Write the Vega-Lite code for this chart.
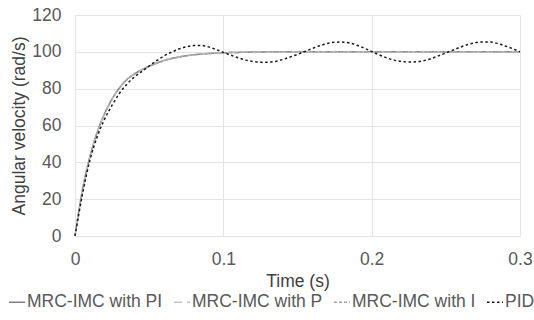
{
  "$schema": "https://vega.github.io/schema/vega-lite/v6.json",
  "width": 445,
  "height": 221,
  "autosize": {"type": "none"},
  "padding": {"left": 75, "top": 15, "right": 14, "bottom": 84},
  "background": "white",
  "config": {
    "view": {"stroke": null},
    "font": "Liberation Sans",
    "axis": {"labelFont": "Liberation Sans", "titleFont": "Liberation Sans", "labelFontSize": 17.5, "titleFontSize": 17.5, "labelColor": "#595959", "titleColor": "#404040", "titleFontWeight": "normal", "gridColor": "#e4e4e4", "gridWidth": 1, "ticks": false},
    "legend": {"labelFont": "Liberation Sans", "labelFontSize": 17.5, "labelColor": "#595959"}
  },
  "data": {
    "values": [
      {"t": 0, "MRC-IMC with PI": 0, "MRC-IMC with P": 0, "MRC-IMC with I": 0, "PID": 0},
      {"t": 0.005, "MRC-IMC with PI": 24.9, "MRC-IMC with P": 24.7, "MRC-IMC with I": 24.5, "PID": 22.5},
      {"t": 0.01, "MRC-IMC with PI": 43.0, "MRC-IMC with P": 42.8, "MRC-IMC with I": 42.6, "PID": 41},
      {"t": 0.015, "MRC-IMC with PI": 56.5, "MRC-IMC with P": 56.3, "MRC-IMC with I": 56.1, "PID": 54},
      {"t": 0.02, "MRC-IMC with PI": 66.5, "MRC-IMC with P": 66.4, "MRC-IMC with I": 66.2, "PID": 63.5},
      {"t": 0.025, "MRC-IMC with PI": 74.5, "MRC-IMC with P": 74.4, "MRC-IMC with I": 74.2, "PID": 71},
      {"t": 0.03, "MRC-IMC with PI": 80.5, "MRC-IMC with P": 80.4, "MRC-IMC with I": 80.3, "PID": 77.5},
      {"t": 0.035, "MRC-IMC with PI": 85.0, "MRC-IMC with P": 85.0, "MRC-IMC with I": 84.8, "PID": 82.5},
      {"t": 0.04, "MRC-IMC with PI": 88.0, "MRC-IMC with P": 88.1, "MRC-IMC with I": 87.8, "PID": 86.3},
      {"t": 0.045, "MRC-IMC with PI": 90.3, "MRC-IMC with P": 90.4, "MRC-IMC with I": 90.1, "PID": 89.3},
      {"t": 0.05, "MRC-IMC with PI": 92.2, "MRC-IMC with P": 92.4, "MRC-IMC with I": 92.0, "PID": 92.3},
      {"t": 0.055, "MRC-IMC with PI": 93.9, "MRC-IMC with P": 94.2, "MRC-IMC with I": 93.7, "PID": 95.2},
      {"t": 0.06, "MRC-IMC with PI": 95.3, "MRC-IMC with P": 95.4, "MRC-IMC with I": 95.1, "PID": 97.8},
      {"t": 0.065, "MRC-IMC with PI": 96.4, "MRC-IMC with P": 96.7, "MRC-IMC with I": 96.3, "PID": 99.8},
      {"t": 0.07, "MRC-IMC with PI": 97.2, "MRC-IMC with P": 97.1, "MRC-IMC with I": 97.1, "PID": 101.5},
      {"t": 0.075, "MRC-IMC with PI": 97.9, "MRC-IMC with P": 98.2, "MRC-IMC with I": 97.8, "PID": 102.7},
      {"t": 0.08, "MRC-IMC with PI": 98.4, "MRC-IMC with P": 98.2, "MRC-IMC with I": 98.3, "PID": 103.4},
      {"t": 0.085, "MRC-IMC with PI": 98.8, "MRC-IMC with P": 99.0, "MRC-IMC with I": 98.7, "PID": 103.5},
      {"t": 0.09, "MRC-IMC with PI": 99.1, "MRC-IMC with P": 98.9, "MRC-IMC with I": 99.0, "PID": 102.7},
      {"t": 0.095, "MRC-IMC with PI": 99.3, "MRC-IMC with P": 99.5, "MRC-IMC with I": 99.3, "PID": 101.3},
      {"t": 0.1, "MRC-IMC with PI": 99.5, "MRC-IMC with P": 99.4, "MRC-IMC with I": 99.5, "PID": 99.7},
      {"t": 0.105, "MRC-IMC with PI": 99.6, "MRC-IMC with P": 99.8, "MRC-IMC with I": 99.6, "PID": 98.2},
      {"t": 0.11, "MRC-IMC with PI": 99.7, "MRC-IMC with P": 99.5, "MRC-IMC with I": 99.7, "PID": 96.8},
      {"t": 0.115, "MRC-IMC with PI": 99.8, "MRC-IMC with P": 100.0, "MRC-IMC with I": 99.8, "PID": 95.5},
      {"t": 0.12, "MRC-IMC with PI": 99.9, "MRC-IMC with P": 99.7, "MRC-IMC with I": 99.9, "PID": 94.8},
      {"t": 0.125, "MRC-IMC with PI": 99.9, "MRC-IMC with P": 100.1, "MRC-IMC with I": 99.9, "PID": 94.4},
      {"t": 0.13, "MRC-IMC with PI": 100, "MRC-IMC with P": 99.8, "MRC-IMC with I": 100, "PID": 94.4},
      {"t": 0.135, "MRC-IMC with PI": 100, "MRC-IMC with P": 100.2, "MRC-IMC with I": 100, "PID": 94.8},
      {"t": 0.14, "MRC-IMC with PI": 100, "MRC-IMC with P": 99.8, "MRC-IMC with I": 100, "PID": 95.8},
      {"t": 0.145, "MRC-IMC with PI": 100, "MRC-IMC with P": 100.2, "MRC-IMC with I": 100, "PID": 97.2},
      {"t": 0.15, "MRC-IMC with PI": 100, "MRC-IMC with P": 99.8, "MRC-IMC with I": 100, "PID": 98.6},
      {"t": 0.155, "MRC-IMC with PI": 100, "MRC-IMC with P": 100.2, "MRC-IMC with I": 100, "PID": 100.2},
      {"t": 0.16, "MRC-IMC with PI": 100, "MRC-IMC with P": 99.8, "MRC-IMC with I": 100, "PID": 101.8},
      {"t": 0.165, "MRC-IMC with PI": 100, "MRC-IMC with P": 100.2, "MRC-IMC with I": 100, "PID": 103.3},
      {"t": 0.17, "MRC-IMC with PI": 100, "MRC-IMC with P": 99.8, "MRC-IMC with I": 100, "PID": 104.5},
      {"t": 0.175, "MRC-IMC with PI": 100, "MRC-IMC with P": 100.2, "MRC-IMC with I": 100, "PID": 105.2},
      {"t": 0.18, "MRC-IMC with PI": 100, "MRC-IMC with P": 99.8, "MRC-IMC with I": 100, "PID": 105.3},
      {"t": 0.185, "MRC-IMC with PI": 100, "MRC-IMC with P": 100.2, "MRC-IMC with I": 100, "PID": 104.8},
      {"t": 0.19, "MRC-IMC with PI": 100, "MRC-IMC with P": 99.8, "MRC-IMC with I": 100, "PID": 103.6},
      {"t": 0.195, "MRC-IMC with PI": 100, "MRC-IMC with P": 100.2, "MRC-IMC with I": 100, "PID": 102},
      {"t": 0.2, "MRC-IMC with PI": 100, "MRC-IMC with P": 99.8, "MRC-IMC with I": 100, "PID": 100.2},
      {"t": 0.205, "MRC-IMC with PI": 100, "MRC-IMC with P": 100.2, "MRC-IMC with I": 100, "PID": 98.4},
      {"t": 0.21, "MRC-IMC with PI": 100, "MRC-IMC with P": 99.8, "MRC-IMC with I": 100, "PID": 96.8},
      {"t": 0.215, "MRC-IMC with PI": 100, "MRC-IMC with P": 100.2, "MRC-IMC with I": 100, "PID": 95.5},
      {"t": 0.22, "MRC-IMC with PI": 100, "MRC-IMC with P": 99.8, "MRC-IMC with I": 100, "PID": 94.8},
      {"t": 0.225, "MRC-IMC with PI": 100, "MRC-IMC with P": 100.2, "MRC-IMC with I": 100, "PID": 94.5},
      {"t": 0.23, "MRC-IMC with PI": 100, "MRC-IMC with P": 99.8, "MRC-IMC with I": 100, "PID": 94.6},
      {"t": 0.235, "MRC-IMC with PI": 100, "MRC-IMC with P": 100.2, "MRC-IMC with I": 100, "PID": 95.2},
      {"t": 0.24, "MRC-IMC with PI": 100, "MRC-IMC with P": 99.8, "MRC-IMC with I": 100, "PID": 96.3},
      {"t": 0.245, "MRC-IMC with PI": 100, "MRC-IMC with P": 100.2, "MRC-IMC with I": 100, "PID": 97.8},
      {"t": 0.25, "MRC-IMC with PI": 100, "MRC-IMC with P": 99.8, "MRC-IMC with I": 100, "PID": 99.4},
      {"t": 0.255, "MRC-IMC with PI": 100, "MRC-IMC with P": 100.2, "MRC-IMC with I": 100, "PID": 101},
      {"t": 0.26, "MRC-IMC with PI": 100, "MRC-IMC with P": 99.8, "MRC-IMC with I": 100, "PID": 102.6},
      {"t": 0.265, "MRC-IMC with PI": 100, "MRC-IMC with P": 100.2, "MRC-IMC with I": 100, "PID": 104},
      {"t": 0.27, "MRC-IMC with PI": 100, "MRC-IMC with P": 99.8, "MRC-IMC with I": 100, "PID": 105},
      {"t": 0.275, "MRC-IMC with PI": 100, "MRC-IMC with P": 100.2, "MRC-IMC with I": 100, "PID": 105.4},
      {"t": 0.28, "MRC-IMC with PI": 100, "MRC-IMC with P": 99.8, "MRC-IMC with I": 100, "PID": 105.3},
      {"t": 0.285, "MRC-IMC with PI": 100, "MRC-IMC with P": 100.2, "MRC-IMC with I": 100, "PID": 104.5},
      {"t": 0.29, "MRC-IMC with PI": 100, "MRC-IMC with P": 99.8, "MRC-IMC with I": 100, "PID": 103.2},
      {"t": 0.295, "MRC-IMC with PI": 100, "MRC-IMC with P": 100.2, "MRC-IMC with I": 100, "PID": 101.7},
      {"t": 0.3, "MRC-IMC with PI": 100, "MRC-IMC with P": 100, "MRC-IMC with I": 100, "PID": 100}
    ]
  },
  "transform": [
    {"fold": ["MRC-IMC with PI", "MRC-IMC with P", "MRC-IMC with I", "PID"], "as": ["series", "value"]}
  ],
  "mark": {"type": "line", "interpolate": "monotone"},
  "encoding": {
    "x": {
      "field": "t", "type": "quantitative",
      "scale": {"domain": [0, 0.3], "nice": false},
      "axis": {"values": [0, 0.1, 0.2, 0.3], "format": "~g", "title": "Time (s)", "labelPadding": 14, "titlePadding": 5, "domainColor": "#e4e4e4", "labelFlush": false}
    },
    "y": {
      "field": "value", "type": "quantitative",
      "scale": {"domain": [0, 120], "nice": false},
      "axis": {"values": [0, 20, 40, 60, 80, 100, 120], "title": "Angular velocity (rad/s)", "labelPadding": 14, "titlePadding": 3, "domain": false}
    },
    "color": {
      "field": "series", "type": "nominal",
      "scale": {"domain": ["MRC-IMC with PI", "MRC-IMC with P", "MRC-IMC with I", "PID"], "range": ["#7f7f7f", "#c4c4c4", "#a5a5a5", "#1a1a1a"]},
      "legend": {"title": null, "orient": "none", "legendX": -67, "legendY": 278, "direction": "horizontal", "symbolType": "stroke", "symbolSize": 256, "labelOffset": 1, "columnPadding": 8, "symbolStrokeWidth": 2}
    },
    "strokeDash": {
      "field": "series", "type": "nominal",
      "scale": {"domain": ["MRC-IMC with PI", "MRC-IMC with P", "MRC-IMC with I", "PID"], "range": [[1, 0], [8, 5], [3, 2], [2.5, 2.5]]}
    },
    "strokeWidth": {
      "field": "series", "type": "nominal",
      "scale": {"domain": ["MRC-IMC with PI", "MRC-IMC with P", "MRC-IMC with I", "PID"], "range": [1.5, 1.5, 1.2, 2.6]}
    }
  }
}
